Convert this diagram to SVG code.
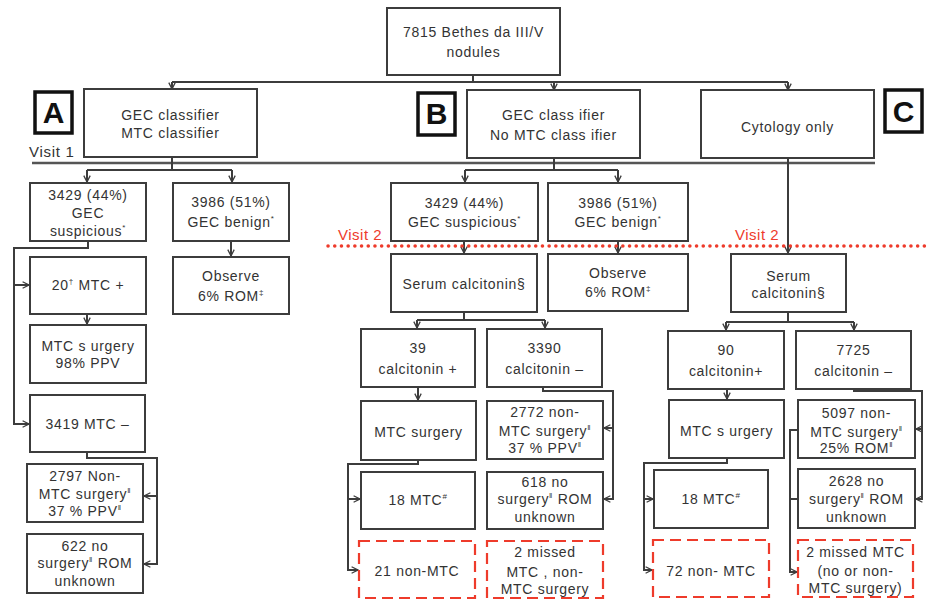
<svg xmlns="http://www.w3.org/2000/svg" width="927" height="601" viewBox="0 0 927 601">
<style>
.b{fill:#fff;stroke:#3c3c3c;stroke-width:2}
.d{fill:#fff;stroke:#ee3b2b;stroke-width:2.2;stroke-dasharray:11 6}
.t{font-family:"Liberation Sans",Arial,sans-serif;font-size:14px;fill:#333;text-anchor:middle;letter-spacing:0.7px}
.s{font-size:8px}
.c{fill:none;stroke:#3c3c3c;stroke-width:2}
.a{fill:none;stroke:#3c3c3c;stroke-width:2;marker-end:url(#ar)}
.L{fill:#fff;stroke:#111;stroke-width:3.5}
.Lt{font-family:"Liberation Sans",Arial,sans-serif;font-size:30px;font-weight:bold;fill:#111;text-anchor:middle}
.v{font-family:"Liberation Sans",Arial,sans-serif;font-size:15px;fill:#ee3b2b;letter-spacing:0.5px}
</style>
<defs>
<marker id="ar" viewBox="0 0 10 10" refX="9" refY="5" markerWidth="8" markerHeight="8" markerUnits="userSpaceOnUse" orient="auto">
<path d="M1,1 L9,5 L1,9" fill="none" stroke="#3c3c3c" stroke-width="1.6"/>
</marker>
</defs>
<rect width="927" height="601" fill="#fff"/>

<g id="connectors">
<path class="c" d="M473,75 V82 M172,82 H788"/>
<path class="a" d="M172,82 V89"/>
<path class="a" d="M554,82 V90"/>
<path class="a" d="M788,82 V90"/>
<path d="M32,163 H875" stroke="#555" stroke-width="2.5" fill="none"/>
<path class="c" d="M172,157 V170 M87,170 H232"/>
<path class="a" d="M87,170 V182"/>
<path class="a" d="M232,170 V182"/>
<path class="a" d="M231,241 V256"/>
<path class="a" d="M88,241 V248 H14 V424 H29"/>
<path class="a" d="M14,285 H29"/>
<path class="a" d="M87,314 V324"/>
<path class="a" d="M87,452 V458 H157 V564 H144"/>
<path class="a" d="M157,496 H144"/>
<path class="c" d="M554,158 V170 M465,170 H618"/>
<path class="a" d="M465,170 V182"/>
<path class="a" d="M618,170 V182"/>
<path class="a" d="M464,241 V253"/>
<path class="a" d="M618,241 V253"/>
<path class="c" d="M464,312 V320 M417,320 H545"/>
<path class="a" d="M417,320 V328"/>
<path class="a" d="M545,320 V328"/>
<path class="a" d="M418,387 V400"/>
<path class="a" d="M418,460 V464 H348 V570 H358"/>
<path class="a" d="M348,499 H360"/>
<path class="a" d="M543,387 V391 H613 V499 H604"/>
<path class="a" d="M613,428 H604"/>
<path class="a" d="M788,158 V253"/>
<path class="c" d="M788,312 V322 M726,322 H854"/>
<path class="a" d="M726,322 V330"/>
<path class="a" d="M854,322 V330"/>
<path class="a" d="M727,389 V399"/>
<path class="a" d="M727,458 V463 H644 V570 H652"/>
<path class="a" d="M644,499 H653"/>
<path class="a" d="M854,389 V391 H922 V499 H916"/>
<path class="a" d="M922,429 H916"/>
<path class="a" d="M798,430 H790 V572 H797"/>
<path class="c" d="M790,499 H798"/>
<path d="M328,246 H927" stroke="#ee3b2b" stroke-width="3.5" stroke-linecap="round" stroke-dasharray="0.1 6.6" fill="none"/>
</g>

<g id="visit-labels">
<text x="29" y="157" class="t" style="text-anchor:start;font-size:15px">Visit 1</text>
<text x="338" y="240" class="v">Visit 2</text>
<text x="735" y="240" class="v">Visit 2</text>
</g>

<g id="label-A"><rect class="L" x="35" y="92" width="37" height="41"/><text class="Lt" x="53.5" y="123">A</text></g>
<g id="label-B"><rect class="L" x="418" y="93" width="37" height="42"/><text class="Lt" x="436.5" y="124">B</text></g>
<g id="label-C"><rect class="L" x="885" y="90" width="37" height="42"/><text class="Lt" x="903.5" y="122">C</text></g>

<g id="n-root"><rect class="b" x="387" y="8" width="173" height="67"/>
<text class="t" x="473.5" y="37">7815 Bethes da III/V</text><text class="t" x="473.5" y="57">nodules</text></g>

<g id="n-A"><rect class="b" x="84" y="89" width="173" height="68"/>
<text class="t" x="170.5" y="120">GEC classifier</text><text class="t" x="170.5" y="138">MTC classifier</text></g>

<g id="n-B"><rect class="b" x="467" y="90" width="173" height="68"/>
<text class="t" x="553.5" y="120">GEC class ifier</text><text class="t" x="553.5" y="140">No MTC class ifier</text></g>

<g id="n-C"><rect class="b" x="701" y="90" width="173" height="68"/>
<text class="t" x="787.5" y="132">Cytology only</text></g>

<g id="n-A-susp"><rect class="b" x="30" y="183" width="116" height="58"/>
<text class="t" x="88" y="200">3429 (44%)</text><text class="t" x="88" y="218">GEC</text><text class="t" x="88" y="236">suspicious<tspan class="s" dy="-6">*</tspan></text></g>

<g id="n-A-ben"><rect class="b" x="173" y="183" width="116" height="58"/>
<text class="t" x="231" y="207">3986 (51%)</text><text class="t" x="231" y="227">GEC benign<tspan class="s" dy="-6">*</tspan></text></g>

<g id="n-A-mtcpos"><rect class="b" x="30" y="257" width="116" height="57"/>
<text class="t" x="88" y="290">20<tspan class="s" dy="-6">†</tspan><tspan dy="6"> MTC +</tspan></text></g>

<g id="n-A-obs"><rect class="b" x="173" y="257" width="116" height="57"/>
<text class="t" x="231" y="281">Observe</text><text class="t" x="231" y="301">6% ROM<tspan class="s" dy="-6">‡</tspan></text></g>

<g id="n-A-surg"><rect class="b" x="30" y="325" width="116" height="58"/>
<text class="t" x="88" y="351">MTC s urgery</text><text class="t" x="88" y="368">98% PPV</text></g>

<g id="n-A-mtcneg"><rect class="b" x="30" y="395" width="115" height="57"/>
<text class="t" x="87.5" y="429">3419 MTC –</text></g>

<g id="n-A-nonmtc"><rect class="b" x="27" y="464" width="116" height="58"/>
<text class="t" x="85" y="481">2797 Non-</text><text class="t" x="85" y="499">MTC surgery<tspan class="s" dy="-6">‖</tspan></text><text class="t" x="85" y="516">37 % PPV<tspan class="s" dy="-6">‖</tspan></text></g>

<g id="n-A-nosurg"><rect class="b" x="27" y="534" width="116" height="59"/>
<text class="t" x="85" y="551">622 no</text><text class="t" x="85" y="568">surgery<tspan class="s" dy="-6">‖</tspan><tspan dy="6"> ROM</tspan></text><text class="t" x="85" y="586">unknown</text></g>

<g id="n-B-susp"><rect class="b" x="391" y="183" width="147" height="58"/>
<text class="t" x="464.5" y="208">3429 (44%)</text><text class="t" x="464.5" y="227">GEC suspicious<tspan class="s" dy="-6">*</tspan></text></g>

<g id="n-B-ben"><rect class="b" x="548" y="183" width="140" height="58"/>
<text class="t" x="618" y="208">3986 (51%)</text><text class="t" x="618" y="227">GEC benign<tspan class="s" dy="-6">*</tspan></text></g>

<g id="n-B-serum"><rect class="b" x="391" y="254" width="146" height="58"/>
<text class="t" x="464" y="289">Serum calcitonin§</text></g>

<g id="n-B-obs"><rect class="b" x="548" y="254" width="140" height="57"/>
<text class="t" x="618" y="278">Observe</text><text class="t" x="618" y="297">6% ROM<tspan class="s" dy="-6">‡</tspan></text></g>

<g id="n-B-calpos"><rect class="b" x="361" y="329" width="114" height="58"/>
<text class="t" x="418" y="353">39</text><text class="t" x="418" y="374">calcitonin +</text></g>

<g id="n-B-calneg"><rect class="b" x="487" y="329" width="115" height="58"/>
<text class="t" x="544.5" y="353">3390</text><text class="t" x="544.5" y="374">calcitonin –</text></g>

<g id="n-B-surg"><rect class="b" x="361" y="401" width="115" height="59"/>
<text class="t" x="418.5" y="437">MTC surgery</text></g>

<g id="n-B-nonmtc"><rect class="b" x="487" y="401" width="116" height="58"/>
<text class="t" x="545" y="417">2772 non-</text><text class="t" x="545" y="436">MTC surgery<tspan class="s" dy="-6">‖</tspan></text><text class="t" x="545" y="453">37 % PPV<tspan class="s" dy="-6">‖</tspan></text></g>

<g id="n-B-18"><rect class="b" x="361" y="472" width="114" height="57"/>
<text class="t" x="418" y="505">18 MTC<tspan class="s" dy="-6">#</tspan></text></g>

<g id="n-B-nosurg"><rect class="b" x="487" y="472" width="116" height="57"/>
<text class="t" x="545" y="487">618 no</text><text class="t" x="545" y="504">surgery<tspan class="s" dy="-6">‖</tspan><tspan dy="6"> ROM</tspan></text><text class="t" x="545" y="522">unknown</text></g>

<g id="n-B-21"><rect class="d" x="359" y="541" width="116" height="57"/>
<text class="t" x="417" y="576">21 non-MTC</text></g>

<g id="n-B-missed"><rect class="d" x="487" y="541" width="116" height="57"/>
<text class="t" x="545" y="557">2 missed</text><text class="t" x="545" y="577">MTC , non-</text><text class="t" x="545" y="594">MTC surgery</text></g>

<g id="n-C-serum"><rect class="b" x="731" y="254" width="115" height="58"/>
<text class="t" x="788.5" y="281">Serum</text><text class="t" x="788.5" y="298">calcitonin§</text></g>

<g id="n-C-calpos"><rect class="b" x="668" y="331" width="116" height="58"/>
<text class="t" x="726" y="355">90</text><text class="t" x="726" y="376">calcitonin+</text></g>

<g id="n-C-calneg"><rect class="b" x="796" y="331" width="115" height="58"/>
<text class="t" x="853.5" y="355">7725</text><text class="t" x="853.5" y="376">calcitonin –</text></g>

<g id="n-C-surg"><rect class="b" x="669" y="400" width="115" height="58"/>
<text class="t" x="726.5" y="436">MTC s urgery</text></g>

<g id="n-C-nonmtc"><rect class="b" x="798" y="400" width="117" height="58"/>
<text class="t" x="856.5" y="418">5097 non-</text><text class="t" x="856.5" y="437">MTC surgery<tspan class="s" dy="-6">‖</tspan></text><text class="t" x="856.5" y="453">25% ROM<tspan class="s" dy="-6">‖</tspan></text></g>

<g id="n-C-18"><rect class="b" x="654" y="470" width="114" height="58"/>
<text class="t" x="711" y="504">18 MTC<tspan class="s" dy="-6">#</tspan></text></g>

<g id="n-C-nosurg"><rect class="b" x="798" y="469" width="117" height="59"/>
<text class="t" x="856.5" y="486">2628 no</text><text class="t" x="856.5" y="504">surgery<tspan class="s" dy="-6">‖</tspan><tspan dy="6"> ROM</tspan></text><text class="t" x="856.5" y="522">unknown</text></g>

<g id="n-C-72"><rect class="d" x="653" y="540" width="116" height="57"/>
<text class="t" x="711" y="576">72 non- MTC</text></g>

<g id="n-C-missed"><rect class="d" x="798" y="540" width="115" height="57"/>
<text class="t" x="855.5" y="557">2 missed MTC</text><text class="t" x="855.5" y="576">(no or non-</text><text class="t" x="855.5" y="593">MTC surgery)</text></g>
</svg>
